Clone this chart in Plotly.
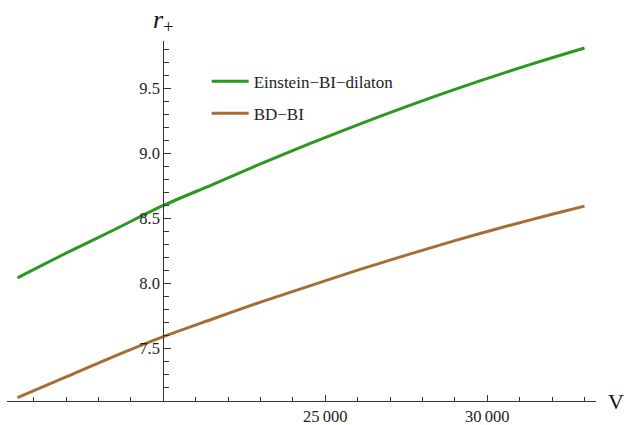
import plotly.graph_objects as go

# Data
V = [15500, 17000, 18500, 20000, 21500, 23000, 24500, 26000, 27500, 29000, 30500, 32000, 33000]
r_einstein = [8.043, 8.233, 8.415, 8.600, 8.759, 8.920, 9.074, 9.221, 9.361, 9.494, 9.619, 9.737, 9.812]
r_bd = [7.121, 7.280, 7.440, 7.590, 7.724, 7.856, 7.979, 8.102, 8.218, 8.329, 8.434, 8.532, 8.595]

x_tickvals = [25000, 30000]
x_ticktext = ["25\u2009000", "30\u2009000"]
y_tickvals = [7.5, 8.0, 8.5, 9.0, 9.5]
y_ticktext = ["7.5", "8.0", "8.5", "9.0", "9.5"]

names = ["Einstein\u2212BI\u2212dilaton", "BD\u2212BI"]
colors = ["#2b981f", "#a66e36"]

x_range = [15176, 33355]
y_range = [7.095, 9.866]
y_axis_cross = 20000
ypos = (y_axis_cross - x_range[0]) / (x_range[1] - x_range[0])

font_family = "Liberation Serif, Times New Roman, serif"

fig = go.Figure()
for i, (ys, nm, col) in enumerate(zip([r_einstein, r_bd], names, colors)):
    fig.add_trace(go.Scatter(
        x=V, y=ys, mode="lines", name=nm, legendgroup=f"g{i}",
        line=dict(color=col, width=3, shape="spline", smoothing=0.8),
    ))

fig.update_layout(
    width=627, height=425,
    margin=dict(l=7, r=31, t=41, b=24, autoexpand=False),
    paper_bgcolor="white", plot_bgcolor="white",
    font=dict(family=font_family, size=16, color="#222222"),
    showlegend=True,
    legend=dict(
        x=0.339, y=0.937, xanchor="left", yanchor="top",
        bgcolor="rgba(0,0,0,0)", font=dict(size=17, family=font_family, color="#222222"),
        tracegroupgap=7, itemwidth=37,
    ),
    xaxis=dict(
        range=x_range, domain=[0, 1], showgrid=False, zeroline=False,
        showline=True, linecolor="#333333", linewidth=1,
        tickvals=x_tickvals, ticktext=x_ticktext,
        ticks="inside", ticklen=6, tickcolor="#333333", tickwidth=1,
        minor=dict(dtick=1000, tick0=0, ticks="inside", ticklen=4,
                   tickcolor="#333333", tickwidth=1),
        tickfont=dict(size=16.5, family=font_family, color="#222222"),
    ),
    yaxis=dict(
        range=y_range, showgrid=False, zeroline=False,
        anchor="free", position=ypos, side="left",
        showline=True, linecolor="#333333", linewidth=1,
        tickvals=y_tickvals, ticktext=y_ticktext,
        ticks="inside", ticklen=7, tickcolor="#333333", tickwidth=1,
        minor=dict(dtick=0.1, tick0=0, ticks="inside", ticklen=5,
                   tickcolor="#333333", tickwidth=1),
        tickfont=dict(size=16.5, family=font_family, color="#222222"),
    ),
    annotations=[
        dict(text="<i>r</i><sub>+</sub>", xref="x", yref="paper",
             x=y_axis_cross, y=1.0, yshift=2, xanchor="center", yanchor="bottom",
             showarrow=False, font=dict(size=26, family=font_family, color="#111111")),
        dict(text="V", xref="paper", yref="y", x=1.0, y=y_range[0], xshift=10,
             xanchor="left", yanchor="middle", showarrow=False,
             font=dict(size=22, family=font_family, color="#111111")),
    ],
)

fig.write_html("out.html", config={"displayModeBar": False},
               post_script="document.body.style.margin='0';")
